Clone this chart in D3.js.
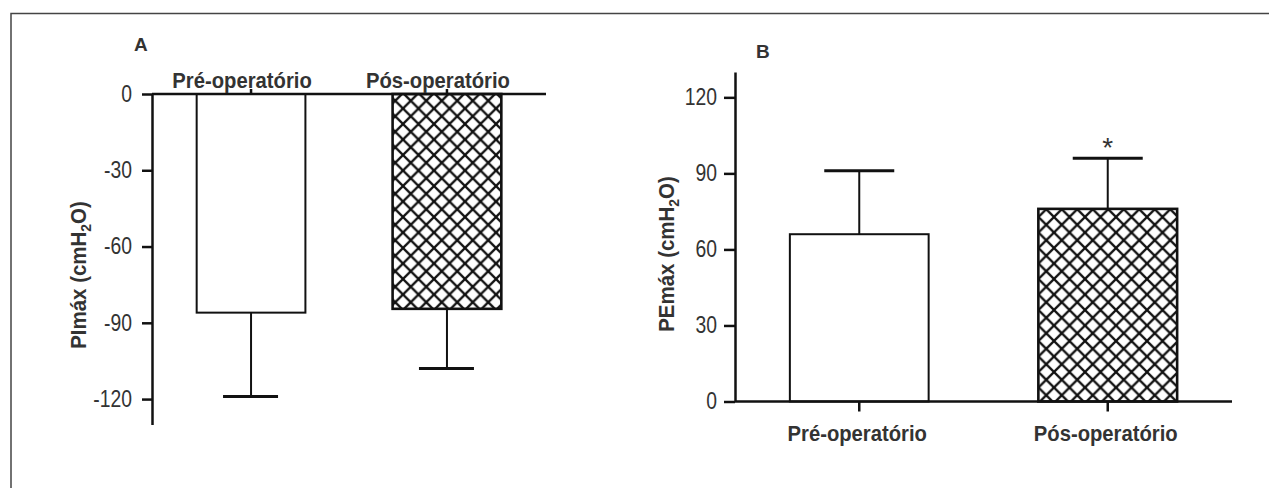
<!DOCTYPE html>
<html>
<head>
<meta charset="utf-8">
<script src="https://cdn.jsdelivr.net/npm/d3@7"></script>
<style>
  html, body { margin: 0; padding: 0; background: #fff; }
  svg { display: block; }
  .tick text { font-family: "Liberation Sans", Arial, sans-serif; font-size: 23px; fill: #333; }
  .lbl { font-family: "Liberation Sans", Arial, sans-serif; font-weight: bold; fill: #333; }
</style>
</head>
<body>
<svg id="chart" width="1269" height="488"></svg>
<script>
// ---- data ----
const categories = ["Pré-operatório", "Pós-operatório"];
const pimaxMean = [-86, -84.5];
const pimaxSD = [33, 23.5];
const pemaxMean = [66, 76];
const pemaxSD = [25, 20];
const pimaxTicks = [0, -30, -60, -90, -120];
const pemaxTicks = [0, 30, 60, 90, 120];
const significant = [false, true];
const panelLabels = ["A", "B"];
const pimaxTitle = ["PImáx (cmH", "2", "O)"];
const pemaxTitle = ["PEmáx (cmH", "2", "O)"];

const svg = d3.select("#chart");
const ink = "#111";
const fmt = d => String(d).replace("\u2212", "-");
const H = 15.5; // hatch tile

// hatch pattern
const defs = svg.append("defs");
const pat = defs.append("pattern").attr("id", "hatch")
  .attr("patternUnits", "userSpaceOnUse").attr("width", H).attr("height", H);
pat.append("rect").attr("width", H).attr("height", H).attr("fill", "#fff");
pat.append("path")
  .attr("d", `M0,0L${H},${H}M${H},0L0,${H}M-2,${H-2}L2,${H+2}M${H-2},-2L${H+2},2M-2,2L2,-2M${H-2},${H+2}L${H+2},${H-2}`)
  .attr("stroke", ink).attr("stroke-width", 2.3).attr("fill", "none");

// frame
svg.append("rect").attr("x", 11).attr("y", 13.5).attr("width", 1400).attr("height", 600)
  .attr("fill", "none").attr("stroke", "#444").attr("stroke-width", 1.5);

function title(g, parts, x, y) {
  const t = g.append("text").attr("class", "lbl cond").attr("data-f", 0.93)
    .attr("transform", `translate(${x},${y}) rotate(-90)`)
    .attr("text-anchor", "middle").attr("font-size", 22);
  t.append("tspan").text(parts[0]);
  t.append("tspan").attr("font-size", 15).attr("dy", 5).text(parts[1]);
  t.append("tspan").attr("dy", -5).text(parts[2]);
}

// ================= Panel A =================
{
  const x = d3.scaleBand().domain(categories).range([152, 546]).paddingInner(0.445).paddingOuter(0.228);
  const y = d3.scaleLinear().domain([-130, 0]).range([424.5, 94]);
  const g = svg.append("g");

  g.selectAll("rect.bar").data(categories).join("rect")
    .attr("x", d => x(d)).attr("width", x.bandwidth())
    .attr("y", y(0)).attr("height", (d, i) => y(pimaxMean[i]) - y(0))
    .attr("fill", (d, i) => i === 1 ? "url(#hatch)" : "#fff")
    .attr("stroke", ink).attr("stroke-width", (d, i) => i === 1 ? 2.6 : 2);

  categories.forEach((c, i) => {
    const cx = x(c) + x.bandwidth() / 2;
    g.append("line").attr("x1", cx).attr("x2", cx)
      .attr("y1", y(pimaxMean[i])).attr("y2", y(pimaxMean[i] - pimaxSD[i]))
      .attr("stroke", ink).attr("stroke-width", 2);
    g.append("line").attr("x1", cx - 28).attr("x2", cx + 27)
      .attr("y1", y(pimaxMean[i] - pimaxSD[i])).attr("y2", y(pimaxMean[i] - pimaxSD[i]))
      .attr("stroke", ink).attr("stroke-width", 3);
  });

  const ya = g.append("g").attr("transform", "translate(152,0)")
    .call(d3.axisLeft(y).tickValues(pimaxTicks).tickFormat(fmt).tickSize(10).tickSizeOuter(0).tickPadding(10));
  ya.selectAll("path,line").attr("stroke", ink).attr("stroke-width", 2.5);
  ya.selectAll(".tick text").classed("cond", true).attr("data-f", 0.84);

  const xa = g.append("g").attr("transform", `translate(0,${y(0)})`)
    .call(d3.axisTop(x).tickSize(5).tickSizeOuter(0).tickFormat(""));
  xa.select(".domain").attr("d", `M152,0H546`);
  xa.selectAll("path,line").attr("stroke", ink).attr("stroke-width", 2.5);

  g.selectAll("text.cat").data(categories).join("text").attr("class", "lbl cat cond").attr("data-f", 0.92)
    .attr("x", d => x(d) + x.bandwidth() / 2 - 9).attr("y", 87.5)
    .attr("text-anchor", "middle").attr("font-size", 22).text(d => d);

  title(g, pimaxTitle, 86, 275);

  g.append("text").attr("class", "lbl").attr("x", 134).attr("y", 51)
    .attr("font-size", 19).text(panelLabels[0]);
}

// ================= Panel B =================
{
  const x = d3.scaleBand().domain(categories).range([735, 1232]).paddingInner(0.4415).paddingOuter(0.2208);
  const y = d3.scaleLinear().domain([0, 130]).range([401.5, 72]);
  const g = svg.append("g");

  g.selectAll("rect.bar").data(categories).join("rect")
    .attr("x", d => x(d)).attr("width", x.bandwidth())
    .attr("y", (d, i) => y(pemaxMean[i])).attr("height", (d, i) => y(0) - y(pemaxMean[i]))
    .attr("fill", (d, i) => i === 1 ? "url(#hatch)" : "#fff")
    .attr("stroke", ink).attr("stroke-width", (d, i) => i === 1 ? 2.6 : 2);

  categories.forEach((c, i) => {
    const cx = x(c) + x.bandwidth() / 2;
    const top = y(pemaxMean[i] + pemaxSD[i]);
    g.append("line").attr("x1", cx).attr("x2", cx)
      .attr("y1", y(pemaxMean[i])).attr("y2", top)
      .attr("stroke", ink).attr("stroke-width", 2);
    g.append("line").attr("x1", cx - 35).attr("x2", cx + 35)
      .attr("y1", top).attr("y2", top)
      .attr("stroke", ink).attr("stroke-width", 3);
    if (significant[i]) {
      g.append("text").attr("x", cx).attr("y", top - 1)
        .attr("text-anchor", "middle")
        .attr("font-family", "Liberation Sans, Arial, sans-serif")
        .attr("font-size", 28).attr("fill", "#333").text("*");
    }
  });

  const ya = g.append("g").attr("transform", "translate(735,0)")
    .call(d3.axisLeft(y).tickValues(pemaxTicks).tickFormat(fmt).tickSize(11).tickSizeOuter(0).tickPadding(7));
  ya.selectAll("path,line").attr("stroke", ink).attr("stroke-width", 2.5);
  ya.selectAll(".tick text").classed("cond", true).attr("data-f", 0.84);

  const xa = g.append("g").attr("transform", `translate(0,${y(0)})`)
    .call(d3.axisBottom(x).tickSize(10).tickSizeOuter(0).tickFormat(""));
  xa.select(".domain").attr("d", `M735,0H1232`);
  xa.selectAll("path,line").attr("stroke", ink).attr("stroke-width", 2.5);

  g.selectAll("text.cat").data(categories).join("text").attr("class", "lbl cat cond").attr("data-f", 0.92)
    .attr("x", d => x(d) + x.bandwidth() / 2 - 2).attr("y", 441)
    .attr("text-anchor", "middle").attr("font-size", 22).text(d => d);

  title(g, pemaxTitle, 674, 254);

  g.append("text").attr("class", "lbl").attr("x", 756).attr("y", 57.5)
    .attr("font-size", 19).text(panelLabels[1]);
}

// condense text to mimic the narrow typeface of the original
svg.selectAll("text.cond").each(function () {
  const f = +this.getAttribute("data-f");
  const w = this.getComputedTextLength();
  d3.select(this).attr("textLength", w * f).attr("lengthAdjust", "spacingAndGlyphs");
});
</script>
</body>
</html>
